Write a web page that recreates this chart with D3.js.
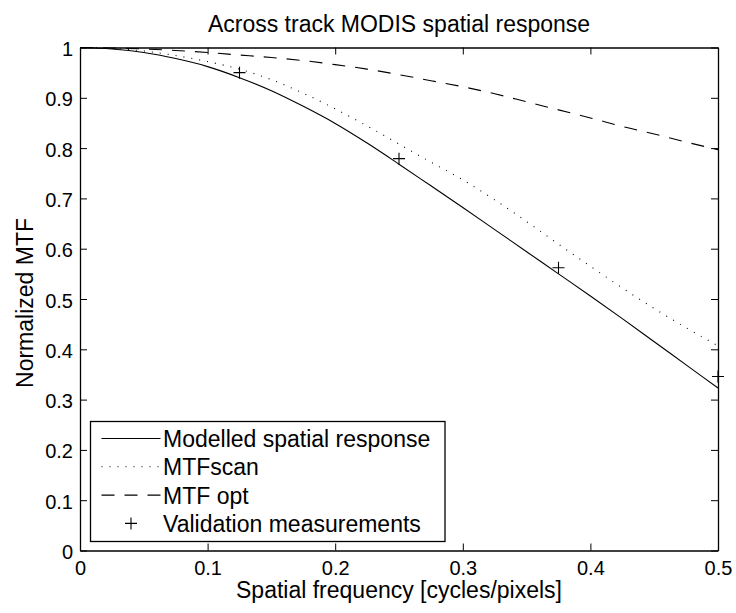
<!DOCTYPE html>
<html>
<head>
<meta charset="utf-8">
<script src="https://cdn.jsdelivr.net/npm/d3@7"></script>
<style>
  body { margin: 0; background: #fff; }
  svg { display: block; font-family: "Liberation Sans", Arial, Helvetica, sans-serif; }
</style>
</head>
<body>
<div id="chart"></div>
<script>
// spatial frequency samples [cycles/pixel]
var freq = [0, 0.025, 0.05, 0.075, 0.1, 0.125, 0.15, 0.175, 0.2, 0.225, 0.25,
            0.275, 0.3, 0.325, 0.35, 0.375, 0.4, 0.425, 0.45, 0.475, 0.5];
// curves
var modelled = [1.000, 0.997, 0.990, 0.978, 0.962, 0.940, 0.914, 0.883, 0.849, 0.810, 0.768,
                0.725, 0.682, 0.638, 0.594, 0.550, 0.506, 0.461, 0.415, 0.369, 0.323];
var mtfScan = [1.000, 0.998, 0.993, 0.984, 0.972, 0.957, 0.936, 0.909, 0.878, 0.844, 0.808,
               0.772, 0.737, 0.697, 0.654, 0.609, 0.565, 0.522, 0.481, 0.443, 0.407];
var mtfOpt = [1.000, 0.999, 0.997, 0.994, 0.990, 0.985, 0.980, 0.974, 0.966, 0.957, 0.946,
              0.934, 0.922, 0.908, 0.892, 0.876, 0.860, 0.843, 0.828, 0.812, 0.797];
// validation measurements
var measFreq = [0.125, 0.25, 0.375, 0.5];
var measMTF = [0.950, 0.779, 0.562, 0.346];

var xTicks = [0, 0.1, 0.2, 0.3, 0.4, 0.5];
var yTicks = [0, 0.1, 0.2, 0.3, 0.4, 0.5, 0.6, 0.7, 0.8, 0.9, 1];
var legendNames = ["Modelled spatial response", "MTFscan", "MTF opt", "Validation measurements"];

var width = 736, height = 613;
var margin = {top: 47.5, right: 18, bottom: 62.5, left: 80};
var w = width - margin.left - margin.right,
    h = height - margin.top - margin.bottom;

var svg = d3.select("#chart").append("svg")
    .attr("width", width)
    .attr("height", height);

var g = svg.append("g")
    .attr("transform", "translate(" + margin.left + "," + margin.top + ")");

var x = d3.scaleLinear().domain([0, 0.5]).range([0, w]);
var y = d3.scaleLinear().domain([0, 1]).range([h, 0]);

var fmt = function(d) { return d === 0 ? "0" : d === 1 ? "1" : d3.format(".1f")(d); };

// axes: ticks point inward, box on all four sides
var xAxis = g.append("g").attr("transform", "translate(0," + h + ")")
    .call(d3.axisBottom(x).tickValues(xTicks).tickFormat(fmt).tickSizeInner(-7).tickSizeOuter(0).tickPadding(10));
var yAxis = g.append("g")
    .call(d3.axisLeft(y).tickValues(yTicks).tickFormat(fmt).tickSizeInner(-7).tickSizeOuter(0).tickPadding(7));
g.append("g")
    .call(d3.axisTop(x).tickValues(xTicks).tickFormat("").tickSizeInner(-7).tickSizeOuter(0));
g.append("g").attr("transform", "translate(" + w + ",0)")
    .call(d3.axisRight(y).tickValues(yTicks).tickFormat("").tickSizeInner(-7).tickSizeOuter(0));

g.selectAll(".domain").attr("stroke", "#000").attr("stroke-width", 1.3);
g.selectAll(".tick line").attr("stroke", "#000").attr("stroke-width", 1);
g.selectAll(".tick text").attr("fill", "#000").style("font-size", "20px");
yAxis.selectAll(".tick text").attr("dy", "0.4em");

// curves
var series = [
    {values: modelled, dash: null},
    {values: mtfScan, dash: "1,7"},
    {values: mtfOpt, dash: "13,10"}
];

var line = d3.line()
    .x(function(d) { return x(d[0]); })
    .y(function(d) { return y(d[1]); })
    .curve(d3.curveMonotoneX);

var plot = g.append("g");

series.forEach(function(s) {
    plot.append("path")
        .datum(freq.map(function(f, i) { return [f, s.values[i]]; }))
        .attr("fill", "none")
        .attr("stroke", "#000")
        .attr("stroke-width", 1.1)
        .attr("stroke-dasharray", s.dash)
        .attr("d", line);
});

var plus = "M-6,0H6M0,-6V6";
plot.selectAll(".meas")
    .data(measFreq.map(function(f, i) { return [f, measMTF[i]]; }))
    .enter().append("path")
    .attr("class", "meas")
    .attr("d", plus)
    .attr("transform", function(d) { return "translate(" + x(d[0]) + "," + y(d[1]) + ")"; })
    .attr("stroke", "#000")
    .attr("stroke-width", 1.1)
    .attr("fill", "none");

// legend
var legend = svg.append("g").attr("transform", "translate(90.5,421.5)");
legend.append("rect")
    .attr("width", 354.5)
    .attr("height", 120)
    .attr("fill", "#fff")
    .attr("stroke", "#000")
    .attr("stroke-width", 1.3);

legendNames.forEach(function(name, i) {
    var ry = 17 + i * 28.3;
    if (i < 3) {
        legend.append("line")
            .attr("x1", 11).attr("x2", 70)
            .attr("y1", ry).attr("y2", ry)
            .attr("stroke", "#000")
            .attr("stroke-width", 1.1)
            .attr("stroke-dasharray", series[i].dash);
    } else {
        legend.append("path")
            .attr("d", plus)
            .attr("transform", "translate(40.5," + ry + ")")
            .attr("stroke", "#000")
            .attr("stroke-width", 1.1);
    }
    legend.append("text")
        .attr("x", 72.5)
        .attr("y", ry + 8.4)
        .style("font-size", "23px")
        .text(name);
});

// titles
svg.append("text")
    .attr("x", margin.left + w / 2)
    .attr("y", 32)
    .attr("text-anchor", "middle")
    .style("font-size", "23px")
    .text("Across track MODIS spatial response");

svg.append("text")
    .attr("x", margin.left + w / 2)
    .attr("y", 598)
    .attr("text-anchor", "middle")
    .style("font-size", "23px")
    .text("Spatial frequency [cycles/pixels]");

svg.append("text")
    .attr("transform", "translate(33,303) rotate(-90)")
    .attr("text-anchor", "middle")
    .style("font-size", "23px")
    .text("Normalized MTF");
</script>
</body>
</html>
